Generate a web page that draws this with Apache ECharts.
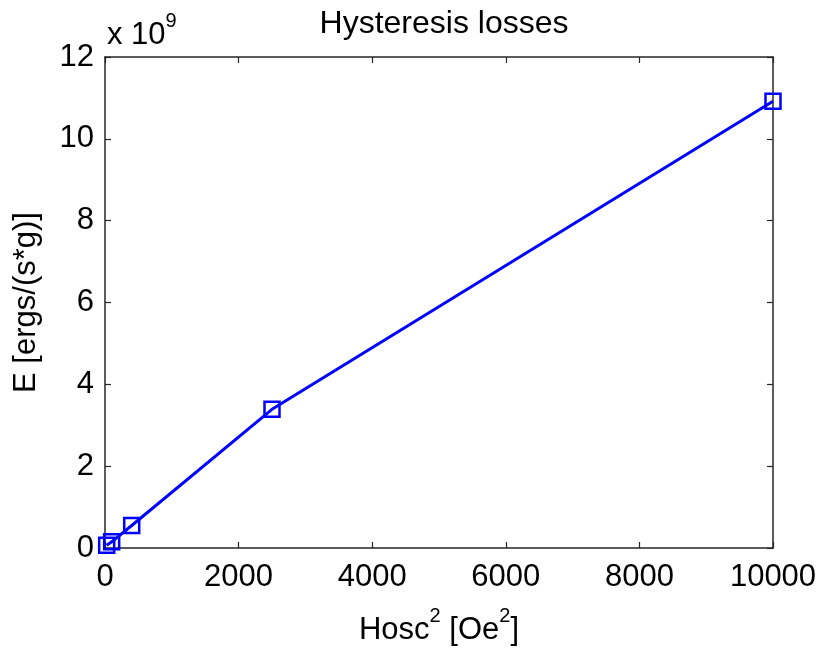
<!DOCTYPE html>
<html>
<head>
<meta charset="utf-8">
<script src="https://cdn.jsdelivr.net/npm/echarts@6/dist/echarts.min.js"></script>
<style>
  html, body { margin: 0; padding: 0; background: #fff; }
  #chart { width: 822px; height: 651px; }
</style>
</head>
<body>
<div id="chart"></div>
<script>
// Squared oscillating field amplitude, Oe^2
const hoscSquared = [25, 100, 400, 2500, 10000];
// Hysteresis loss energy, ergs/(s*g)
const energy = [0.07e9, 0.15e9, 0.55e9, 3.39e9, 10.92e9];
// Axis ticks
const xTicks = [0, 2000, 4000, 6000, 8000, 10000];
const yTicks = [0, 2e9, 4e9, 6e9, 8e9, 10e9, 12e9];
const yScale = 1e9;

const FONT = '"Liberation Sans", Arial, sans-serif';
const AX = '#262626';
const FS = 31;

const chart = echarts.init(document.getElementById('chart'), null, { renderer: 'canvas' });

const supRich = {
  base: { fontSize: FS, fontFamily: FONT, color: '#000', verticalAlign: 'bottom' },
  sup: { fontSize: 20, fontFamily: FONT, color: '#000', verticalAlign: 'top', padding: [0, 0, 20, 0] }
};

function boxAxis(extra) {
  return Object.assign({
    axisLine: { show: true, onZero: false, lineStyle: { color: AX, width: 1.5 } },
    axisTick: { show: true, inside: true, length: 6, lineStyle: { color: AX, width: 1.2 } },
    splitLine: { show: false }
  }, extra);
}

const option = {
  backgroundColor: '#fff',
  animation: false,
  title: {
    text: 'Hysteresis losses',
    left: 439, textAlign: 'center', top: 3,
    textStyle: { fontFamily: FONT, fontSize: 32, fontWeight: 'normal', color: '#000' }
  },
  grid: { left: 105, right: 49, top: 57, bottom: 99 },
  xAxis: [
    boxAxis({
      type: 'value', min: xTicks[0], max: xTicks[xTicks.length - 1], interval: 2000,
      position: 'bottom',
      axisLabel: { fontFamily: FONT, fontSize: FS, color: '#000', margin: 14,
        formatter: v => String(v) },
      name: '{base|Hosc}{sup|2}{base| [Oe}{sup|2}{base|]}',
      nameLocation: 'middle', nameGap: 58,
      nameTextStyle: { rich: supRich }
    }),
    boxAxis({
      type: 'value', min: xTicks[0], max: xTicks[xTicks.length - 1], interval: 2000,
      position: 'top', axisLabel: { show: false }
    })
  ],
  yAxis: [
    boxAxis({
      type: 'value', min: yTicks[0], max: yTicks[yTicks.length - 1], interval: 2e9,
      position: 'left',
      axisLabel: { fontFamily: FONT, fontSize: FS, color: '#000', margin: 11,
        formatter: v => String(Math.round(v / yScale)) },
      name: 'E [ergs/(s*g)]',
      nameLocation: 'middle', nameGap: 63, nameRotate: 90,
      nameTextStyle: { fontFamily: FONT, fontSize: FS, color: '#000' }
    }),
    boxAxis({
      type: 'value', min: yTicks[0], max: yTicks[yTicks.length - 1], interval: 2e9,
      position: 'right', axisLabel: { show: false }
    })
  ],
  graphic: [{
    type: 'text', left: 107, top: 11,
    style: {
      text: '{base|x 10}{sup|9}',
      rich: supRich
    }
  }],
  series: [{
    type: 'line',
    data: hoscSquared.map((x, i) => [x, energy[i]]),
    xAxisIndex: 0, yAxisIndex: 0,
    lineStyle: { color: '#0000ff', width: 3 },
    symbol: 'rect', symbolSize: 15,
    itemStyle: { color: 'rgba(0,0,0,0)', borderColor: '#0000ff', borderWidth: 2.5 },
    showAllSymbol: true,
    clip: false
  }]
};

chart.setOption(option);
</script>
</body>
</html>
